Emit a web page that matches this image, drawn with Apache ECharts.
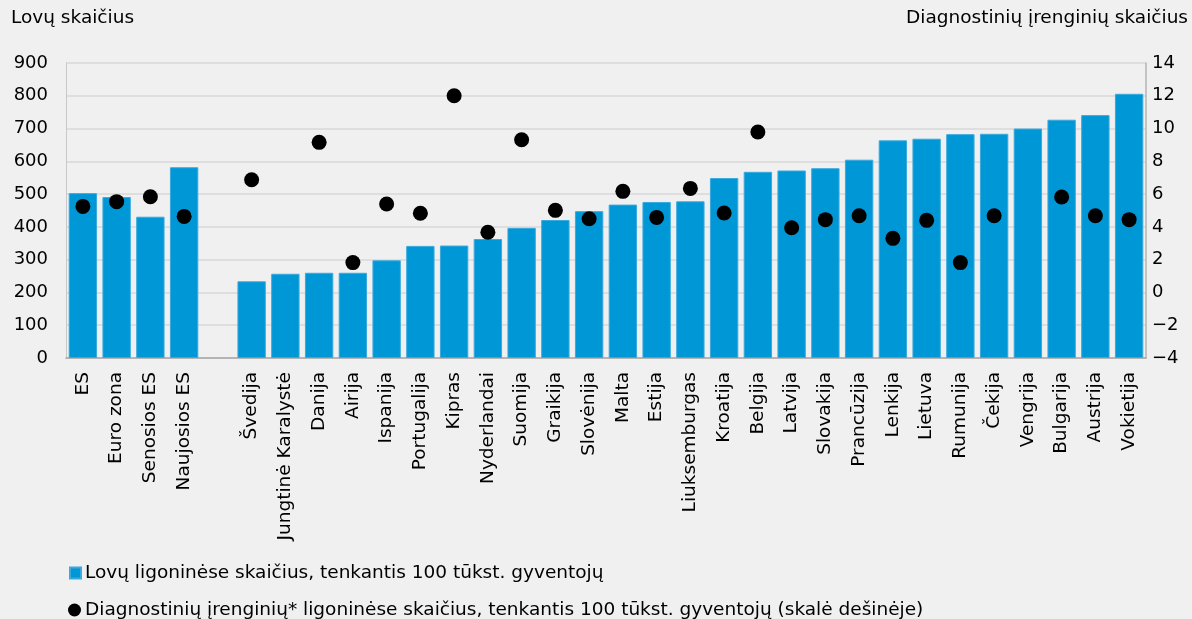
<!DOCTYPE html>
<html><head><meta charset="utf-8">
<script src="https://cdn.jsdelivr.net/npm/echarts@6/dist/echarts.min.js"></script>
<style>html,body{margin:0;padding:0;background:#f0f0f0;}#c{width:1192px;height:619px;}</style>
</head><body><div id="c"></div>
<script>
const categories = ['ES','Euro zona','Senosios ES','Naujosios ES','','Švedija','Jungtinė Karalystė','Danija','Airija','Ispanija','Portugalija','Kipras','Nyderlandai','Suomija','Graikija','Slovėnija','Malta','Estija','Liuksemburgas','Kroatija','Belgija','Latvija','Slovakija','Prancūzija','Lenkija','Lietuva','Rumunija','Čekija','Vengrija','Bulgarija','Austrija','Vokietija'];
const beds = [503,491,431,582,null,234,257,260,260,298,342,343,363,397,421,448,468,476,478,549,568,572,579,605,664,669,683,684,700,727,741,806];
const devices = [5.25,5.54,5.84,4.64,null,6.88,null,9.16,1.82,5.40,4.83,12.0,3.67,9.32,5.01,4.50,6.17,4.58,6.35,4.85,9.79,3.95,4.44,4.68,3.30,4.40,1.82,4.68,null,5.82,4.68,4.44];
const leftTicks = {min:0,max:900,interval:100};
const rightTicks = {min:-4,max:14,interval:2};
const seriesNames = ['Lovų ligoninėse skaičius, tenkantis 100 tūkst. gyventojų','Diagnostinių įrenginių* ligoninėse skaičius, tenkantis 100 tūkst. gyventojų (skalė dešinėje)'];
const axisTitles = ['Lovų skaičius','Diagnostinių įrenginių skaičius'];

const FONT = 'DejaVu Sans';
const TXT = 18.5, NUM = 18;
const chart = echarts.init(document.getElementById('c'), null, {renderer:'canvas'});
const legendBase = {orient:'horizontal',padding:0,
  textStyle:{fontFamily:FONT,fontSize:TXT,color:'#000',lineHeight:20,padding:[0,0,0,-1]}};
chart.setOption({
  backgroundColor:'#f0f0f0',
  animation:false,
  textStyle:{fontFamily:FONT},
  grid:{left:66,right:46,top:63,bottom:261,containLabel:false},
  graphic:[
    {type:'text',left:11,top:9,style:{text:axisTitles[0],font:TXT+'px "DejaVu Sans"',fill:'#000'}},
    {type:'text',right:4,top:9,style:{text:axisTitles[1],font:TXT+'px "DejaVu Sans"',fill:'#000'}}
  ],
  legend:[
    Object.assign({},legendBase,{left:69,top:563,itemWidth:11,itemHeight:11,data:[{name:seriesNames[0],icon:'rect'}]}),
    Object.assign({},legendBase,{left:68,top:600,itemWidth:13,itemHeight:13,itemGap:4,data:[{name:seriesNames[1],icon:'circle'}]})
  ],
  xAxis:{
    type:'category',data:categories,
    axisLine:{lineStyle:{color:'#a6a6a6',width:1.5}},
    axisTick:{show:false},
    axisLabel:{rotate:90,interval:0,fontFamily:FONT,fontSize:TXT,color:'#000',margin:14}
  },
  yAxis:[
    {type:'value',min:leftTicks.min,max:leftTicks.max,interval:leftTicks.interval,
     axisLine:{show:true,lineStyle:{color:'#c8c8c8'}},axisTick:{show:false},
     axisLabel:{fontFamily:FONT,fontSize:NUM,color:'#000',margin:18},
     splitLine:{lineStyle:{color:'#d9d9d9',width:1.5}}},
    {type:'value',min:rightTicks.min,max:rightTicks.max,interval:rightTicks.interval,
     axisLine:{show:true,lineStyle:{color:'#b4b4b4',width:1.5}},axisTick:{show:false},
     axisLabel:{fontFamily:FONT,fontSize:NUM,color:'#000',margin:6,align:'left',
       formatter:v=>String(v).replace('-','\u2212')},
     splitLine:{show:false}}
  ],
  series:[
    {name:seriesNames[0],type:'bar',data:beds,yAxisIndex:0,barCategoryGap:'16%',
     itemStyle:{color:'#0097d6',borderColor:'#3aa9de',borderWidth:1}},
    {name:seriesNames[1],type:'scatter',data:devices,yAxisIndex:1,symbol:'circle',symbolSize:15,
     itemStyle:{color:'#000',opacity:1}}
  ]
});
</script></body></html>
